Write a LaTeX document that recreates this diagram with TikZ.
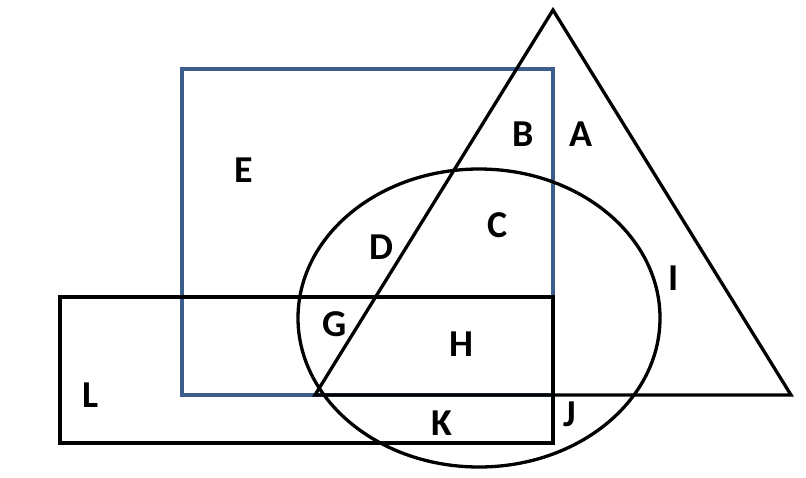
\documentclass[tikz,border=0pt]{standalone}
\usepackage{fontspec}
\setmainfont{Carlito}
\definecolor{sqblue}{HTML}{3B5E8C}
\begin{document}
\begin{tikzpicture}[x=1pt,y=-1pt,
  shape line/.style={line width=3.3pt},
  lbl/.style={anchor=base,inner sep=0pt,font=\fontsize{38}{40}\selectfont\bfseries}]
\useasboundingbox (0,0) rectangle (806,477);
% blue square
\draw[shape line,sqblue] (182,69) rectangle (553,395);
% black rectangle
\draw[shape line,black] (60,297) rectangle (553,443);
% triangle
\draw[shape line,black,line join=miter] (553,10) -- (791,395) -- (315,395) -- cycle;
% ellipse
\draw[shape line,black] (479,318) ellipse [x radius=181, y radius=149];
% labels
\node[lbl] (A) at (581,146) {A};
\node[lbl] (B) at (523,146) {B};
\node[lbl] (C) at (498,237) {C};
\node[lbl] (D) at (381,259) {D};
\node[lbl] (E) at (244,182) {E};
\node[lbl] (G) at (335,336) {G};
\node[lbl] (H) at (461,356) {H};
\node[lbl] (I) at (674,290) {I};
\node[lbl] (J) at (570,426) {J};
\node[lbl] (K) at (442,435) {K};
\node[lbl] (L) at (91,407) {L};
\end{tikzpicture}
\end{document}
